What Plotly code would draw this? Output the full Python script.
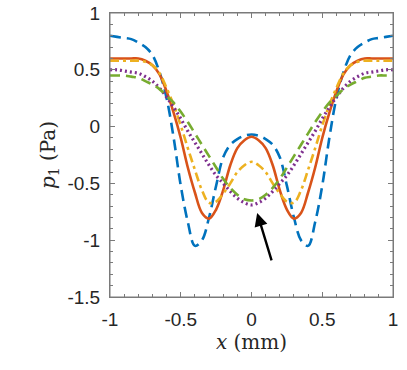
import plotly.graph_objects as go

# sample positions (mm)
x_mm = [-1.0, -0.95, -0.9, -0.85, -0.8, -0.75, -0.7, -0.65, -0.6, -0.55, -0.5,
        -0.45, -0.4, -0.35, -0.3, -0.25, -0.2, -0.15, -0.1, -0.05, 0.0,
        0.05, 0.1, 0.15, 0.2, 0.25, 0.3, 0.35, 0.4, 0.45, 0.5,
        0.55, 0.6, 0.65, 0.7, 0.75, 0.8, 0.85, 0.9, 0.95, 1.0]

# pressure curves p1 (Pa)
p_blue = [0.80, 0.79, 0.78, 0.77, 0.74, 0.70, 0.63, 0.48, 0.25, -0.10, -0.52,
          -0.84, -1.05, -1.00, -0.80, -0.52, -0.27, -0.16, -0.11, -0.08, -0.07,
          -0.08, -0.11, -0.16, -0.27, -0.52, -0.80, -1.00, -1.05, -0.84, -0.52,
          -0.10, 0.25, 0.48, 0.63, 0.70, 0.74, 0.77, 0.78, 0.79, 0.80]
p_red = [0.60, 0.60, 0.60, 0.60, 0.60, 0.58, 0.54, 0.46, 0.31, 0.12, -0.10,
         -0.36, -0.58, -0.76, -0.81, -0.73, -0.56, -0.34, -0.19, -0.12, -0.09,
         -0.12, -0.19, -0.34, -0.56, -0.73, -0.81, -0.76, -0.58, -0.36, -0.10,
         0.12, 0.31, 0.46, 0.54, 0.58, 0.60, 0.60, 0.60, 0.60, 0.60]
p_yellow = [0.58, 0.58, 0.58, 0.58, 0.58, 0.57, 0.54, 0.47, 0.34, 0.19, 0.01,
            -0.19, -0.38, -0.56, -0.67, -0.66, -0.59, -0.50, -0.40, -0.34, -0.31,
            -0.34, -0.40, -0.50, -0.59, -0.66, -0.67, -0.56, -0.38, -0.19, 0.01,
            0.19, 0.34, 0.47, 0.54, 0.57, 0.58, 0.58, 0.58, 0.58, 0.58]
p_purple = [0.50, 0.50, 0.49, 0.48, 0.47, 0.44, 0.40, 0.34, 0.26, 0.17, 0.07,
            -0.04, -0.14, -0.24, -0.34, -0.43, -0.50, -0.57, -0.63, -0.67, -0.69,
            -0.67, -0.63, -0.57, -0.50, -0.43, -0.34, -0.24, -0.14, -0.04, 0.07,
            0.17, 0.26, 0.34, 0.40, 0.44, 0.47, 0.48, 0.49, 0.50, 0.50]
p_green = [0.45, 0.45, 0.45, 0.44, 0.43, 0.40, 0.37, 0.33, 0.27, 0.21, 0.13,
           0.04, -0.06, -0.16, -0.26, -0.36, -0.46, -0.54, -0.60, -0.64, -0.65,
           -0.64, -0.60, -0.54, -0.46, -0.36, -0.26, -0.16, -0.06, 0.04, 0.13,
           0.21, 0.27, 0.33, 0.37, 0.40, 0.43, 0.44, 0.45, 0.45, 0.45]

x_ticks = [-1, -0.5, 0, 0.5, 1]
x_tick_text = ["-1", "-0.5", "0", "0.5", "1"]
y_ticks = [-1.5, -1, -0.5, 0, 0.5, 1]
y_tick_text = ["-1.5", "-1", "-0.5", "0", "0.5", "1"]

# arrow: tail -> tip in data units
arrow_tail = (0.145, -1.19)
arrow_tip = (0.04, -0.76)

series = [
    (p_blue, "#0072BD", "11px,6px", 2.6),
    (p_red, "#D95319", "solid", 2.6),
    (p_yellow, "#EDB120", "9px,4px,3px,4px", 2.6),
    (p_purple, "#7E2F8E", "2px,3px", 3.2),
    (p_green, "#77AC30", "10px,6px", 2.6),
]

fig = go.Figure()
for p, color, dash, w in series:
    fig.add_trace(go.Scatter(x=x_mm, y=p, mode="lines",
                             line=dict(color=color, dash=dash, width=w,
                                       shape="spline", smoothing=1.0),
                             showlegend=False))

fig.add_annotation(x=arrow_tip[0], y=arrow_tip[1], ax=arrow_tail[0], ay=arrow_tail[1],
                   xref="x", yref="y", axref="x", ayref="y", text="",
                   showarrow=True, arrowhead=2, arrowsize=1.1, arrowwidth=2.4,
                   arrowcolor="black")

# axes box (top edge kept explicit)
fig.add_shape(type="rect", xref="paper", yref="paper", x0=0, y0=0, x1=1, y1=1,
              line=dict(color="#7a7a7a", width=1), layer="above")

axis_common = dict(
    showline=True, linecolor="#7a7a7a", linewidth=1, mirror="allticks",
    ticks="inside", ticklen=5, tickcolor="#7a7a7a", showgrid=False, zeroline=False,
    automargin=False, ticklabeloverflow="allow",
    tickfont=dict(family="Liberation Sans, Arial", size=19, color="#262626"),
    minor=dict(ticks="inside", ticklen=3, dtick=0.1, tickcolor="#7a7a7a", showgrid=False),
)

fig.update_xaxes(range=[-1, 1], tickvals=x_ticks, ticktext=x_tick_text,
                 title=dict(text="<i>x</i> (mm)", standoff=4,
                            font=dict(family="DejaVu Serif", size=20, color="#262626")),
                 ticklabelstandoff=5, **axis_common)
fig.update_yaxes(range=[-1.5, 1], tickvals=y_ticks, ticktext=y_tick_text,
                 title=dict(text="<i>p</i><sub>1</sub> (Pa)", standoff=6,
                            font=dict(family="DejaVu Serif", size=20, color="#262626")),
                 ticklabelstandoff=5, **axis_common)

fig.update_layout(width=407, height=370,
                  margin=dict(l=110, r=14, t=13, b=73),
                  plot_bgcolor="white", paper_bgcolor="white")

# drop the browser's default 8px body margin so the figure fills the window
fig.write_html("out.html", config={"displayModeBar": False},
               post_script="document.body.style.margin='0';document.body.style.overflow='hidden';")
